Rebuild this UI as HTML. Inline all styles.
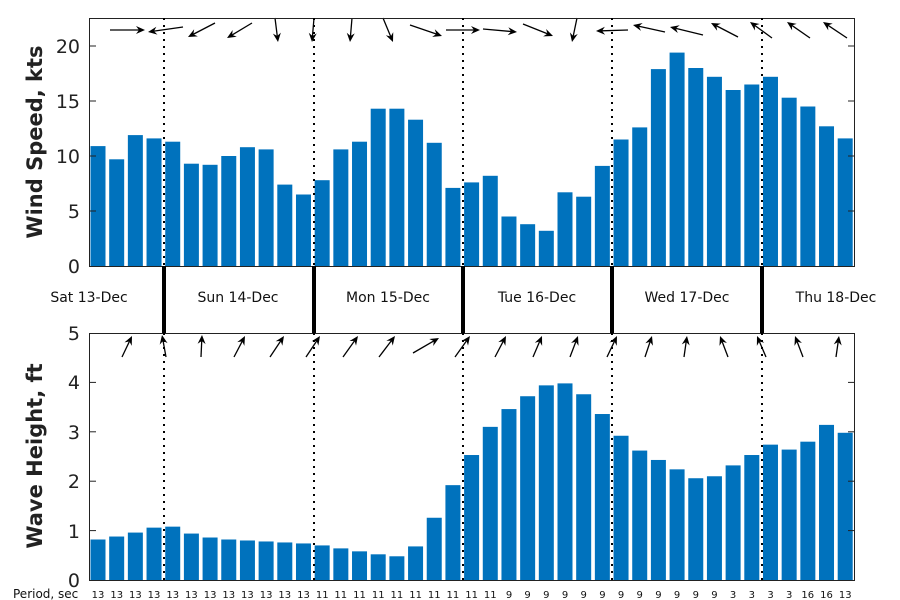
<!DOCTYPE html>
<html><head><meta charset="utf-8"><style>
html,body{margin:0;padding:0;background:#fff;}
svg{display:block;font-family:"DejaVu Sans","Liberation Sans",sans-serif;}
</style></head><body>
<svg id="s" width="900" height="600" viewBox="0 0 900 600" xmlns="http://www.w3.org/2000/svg">
<rect width="900" height="600" fill="#fff"/>
<g id="bars"></g>
<g id="arrows" stroke="#000" stroke-width="1.3" fill="none"></g>
<rect x="89.5" y="18.5" width="765" height="248" fill="none" stroke="#222" stroke-width="1"/>
<rect x="89.5" y="333.5" width="765" height="247" fill="none" stroke="#222" stroke-width="1"/>
<g stroke="#222" stroke-width="1">
<line x1="89" y1="46" x2="96" y2="46"/><line x1="89" y1="101" x2="96" y2="101"/><line x1="89" y1="156" x2="96" y2="156"/><line x1="89" y1="211" x2="96" y2="211"/>
<line x1="855" y1="46" x2="848" y2="46"/><line x1="855" y1="101" x2="848" y2="101"/><line x1="855" y1="156" x2="848" y2="156"/><line x1="855" y1="211" x2="848" y2="211"/>
<line x1="89" y1="382.4" x2="96" y2="382.4"/><line x1="89" y1="431.8" x2="96" y2="431.8"/><line x1="89" y1="481.2" x2="96" y2="481.2"/><line x1="89" y1="530.6" x2="96" y2="530.6"/>
<line x1="855" y1="382.4" x2="848" y2="382.4"/><line x1="855" y1="431.8" x2="848" y2="431.8"/><line x1="855" y1="481.2" x2="848" y2="481.2"/><line x1="855" y1="530.6" x2="848" y2="530.6"/>
</g>
<g stroke="#000" stroke-width="2" stroke-dasharray="2,5">
<line x1="164" y1="18" x2="164" y2="266"/><line x1="314" y1="18" x2="314" y2="266"/><line x1="463" y1="18" x2="463" y2="266"/><line x1="612" y1="18" x2="612" y2="266"/><line x1="762" y1="18" x2="762" y2="266"/>
<line x1="164" y1="333" x2="164" y2="580"/><line x1="314" y1="333" x2="314" y2="580"/><line x1="463" y1="333" x2="463" y2="580"/><line x1="612" y1="333" x2="612" y2="580"/><line x1="762" y1="333" x2="762" y2="580"/>
</g>
<g stroke="#000" stroke-width="4">
<line x1="164" y1="266" x2="164" y2="333"/><line x1="314" y1="266" x2="314" y2="333"/><line x1="463" y1="266" x2="463" y2="333"/><line x1="612" y1="266" x2="612" y2="333"/><line x1="762" y1="266" x2="762" y2="333"/>
</g>
<g font-size="19" fill="#222" text-anchor="end">
<text x="80" y="273">0</text><text x="80" y="218">5</text><text x="80" y="163">10</text><text x="80" y="108">15</text><text x="80" y="53">20</text>
<text x="80" y="587">0</text><text x="80" y="538">1</text><text x="80" y="488">2</text><text x="80" y="439">3</text><text x="80" y="389">4</text><text x="80" y="340">5</text>
</g>
<g font-size="21" font-weight="bold" fill="#222" text-anchor="middle">
<text transform="translate(42,142) rotate(-90)">Wind Speed, kts</text>
<text transform="translate(42,456) rotate(-90)">Wave Height, ft</text>
</g>
<g font-size="14" fill="#111" text-anchor="middle">
<text x="89" y="302">Sat 13-Dec</text>
<text x="238" y="302">Sun 14-Dec</text>
<text x="388" y="302">Mon 15-Dec</text>
<text x="537" y="302">Tue 16-Dec</text>
<text x="687" y="302">Wed 17-Dec</text>
<text x="836" y="302">Thu 18-Dec</text>
</g>
<text x="13" y="598" font-size="12" fill="#111">Period, sec</text>
<g font-size="10" fill="#111" text-anchor="middle">
<text x="98.0" y="598">13</text><text x="116.7" y="598">13</text><text x="135.4" y="598">13</text><text x="154.0" y="598">13</text><text x="172.7" y="598">13</text><text x="191.4" y="598">13</text><text x="210.1" y="598">13</text><text x="228.8" y="598">13</text><text x="247.4" y="598">13</text><text x="266.1" y="598">13</text><text x="284.8" y="598">13</text><text x="303.5" y="598">13</text>
<text x="322.2" y="598">11</text><text x="340.8" y="598">11</text><text x="359.5" y="598">11</text><text x="378.2" y="598">11</text><text x="396.9" y="598">11</text><text x="415.6" y="598">11</text><text x="434.2" y="598">11</text><text x="452.9" y="598">11</text><text x="471.6" y="598">11</text><text x="490.3" y="598">11</text>
<text x="509.0" y="598">9</text><text x="527.6" y="598">9</text><text x="546.3" y="598">9</text><text x="565.0" y="598">9</text><text x="583.7" y="598">9</text><text x="602.4" y="598">9</text><text x="621.0" y="598">9</text><text x="639.7" y="598">9</text><text x="658.4" y="598">9</text><text x="677.1" y="598">9</text><text x="695.8" y="598">9</text><text x="714.4" y="598">9</text>
<text x="733.1" y="598">3</text><text x="751.8" y="598">3</text><text x="770.5" y="598">3</text><text x="789.2" y="598">3</text>
<text x="807.8" y="598">16</text><text x="826.5" y="598">16</text><text x="845.2" y="598">13</text>
</g>
</svg>
<script>
(function(){
var NS="http://www.w3.org/2000/svg";
var wind=[10.9,9.7,11.9,11.6,11.3,9.3,9.2,10.0,10.8,10.6,7.4,6.5,7.8,10.6,11.3,14.3,14.3,13.3,11.2,7.1,7.6,8.2,4.5,3.8,3.2,6.7,6.3,9.1,11.5,12.6,17.9,19.4,18.0,17.2,16.0,16.5,17.2,15.3,14.5,12.7,11.6];
var wave=[0.82,0.88,0.96,1.06,1.08,0.94,0.86,0.82,0.80,0.78,0.76,0.74,0.70,0.64,0.58,0.52,0.48,0.68,1.26,1.92,2.53,3.10,3.46,3.72,3.94,3.98,3.76,3.36,2.92,2.62,2.43,2.24,2.06,2.10,2.32,2.53,2.74,2.64,2.80,3.14,2.98];
var g=document.getElementById("bars");
function rect(x,y,w,h){var r=document.createElementNS(NS,"rect");r.setAttribute("x",x);r.setAttribute("y",y);r.setAttribute("width",w);r.setAttribute("height",h);r.setAttribute("fill","#0072BD");g.appendChild(r);}
for(var i=0;i<41;i++){var cx=98+18.68*i;var h=wind[i]*11;rect(cx-7.5,266-h,15,h);var h2=wave[i]*49.4;rect(cx-7.5,580-h2,15,h2);}
var topA=[[110,30,145,30],[183,27,148,32],[215,23,188,37],[252,23,227,38],[275,18,278,42],[314,18,312,42],[352,18,350,42],[383,18,393,42],[410,25,442,36],[446,30,480,30],[483,29,517,32],[523,24,553,36],[577,18,572,42],[628,30,596,31],[665,32,633,25],[703,35,670,27],[738,37,711,23],[772,38,750,22],[810,38,787,22],[847,38,823,22]];
var botA=[[122,357,132,336],[166,357,162,335],[201,357,202,335],[234,357,245,336],[270,357,284,336],[306,357,320,336],[343,357,358,336],[379,357,395,336],[413,353,439,338],[455,357,470,336],[495,357,506,336],[533,357,542,336],[570,357,578,336],[607,357,617,336],[645,357,652,336],[684,357,687,336],[728,357,720,336],[766,357,757,336],[803,357,795,336],[836,357,839,336]];
var a=document.getElementById("arrows");
function arrow(p){var x1=p[0],y1=p[1],x2=p[2],y2=p[3];var dx=x2-x1,dy=y2-y1,L=Math.sqrt(dx*dx+dy*dy);var ux=dx/L,uy=dy/L;var hl=9,hw=4;
var bx=x2-ux*hl,by=y2-uy*hl;
var l=document.createElementNS(NS,"line");l.setAttribute("x1",x1);l.setAttribute("y1",y1);l.setAttribute("x2",bx+ux*3);l.setAttribute("y2",by+uy*3);a.appendChild(l);
var pg=document.createElementNS(NS,"polygon");pg.setAttribute("points",x2+","+y2+" "+(bx-uy*hw)+","+(by+ux*hw)+" "+(bx+ux*3)+","+(by+uy*3)+" "+(bx+uy*hw)+","+(by-ux*hw));pg.setAttribute("fill","#000");pg.setAttribute("stroke","none");a.appendChild(pg);}
topA.forEach(arrow);botA.forEach(arrow);
})();
</script>
</body></html>
